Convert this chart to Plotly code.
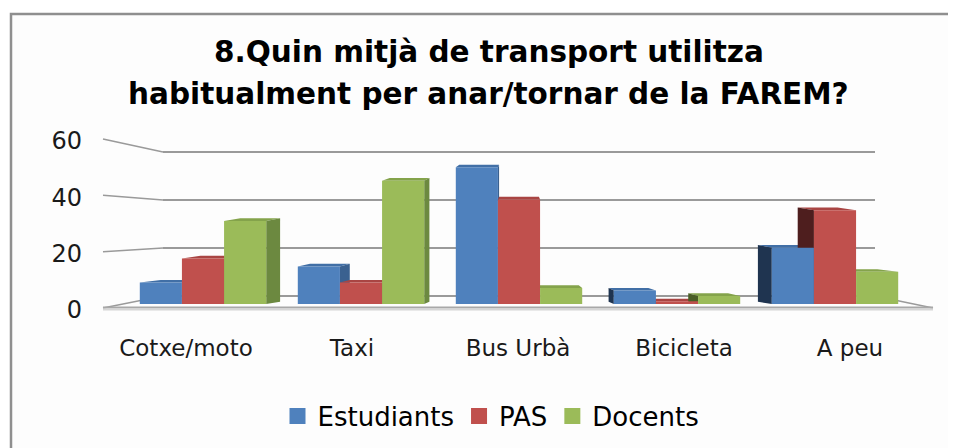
import plotly.graph_objects as go

# ---------------- data ----------------
categories = ["Cotxe/moto", "Taxi", "Bus Urbà", "Bicicleta", "A peu"]
series_names = ["Estudiants", "PAS", "Docents"]
estudiants = [8, 14, 51, 5, 21]
pas = [17, 8, 39, 1, 35]
docents = [31, 46, 6, 3, 12]
y_ticks = [0, 20, 40, 60]
title_lines = ["8.Quin mitjà de transport utilitza",
               "habitualment per anar/tornar de la FAREM?"]

# ---------------- styles ----------------
W, H = 956, 448
OFF = 8  # page body margin
FONT = "DejaVu Sans"
front_colors = ["#4F81BD", "#C0504D", "#9BBB59"]
top_colors = ["#416FA6", "#A94543", "#84A34B"]
side_right_colors = ["#3A6190", "#8E3A38", "#6C8940"]   # faces turned to the right
side_left_colors = ["#1F3450", "#4E1E1E", "#4A5E26"]    # faces turned to the left
GRID = "#9a9a9a"


def px(x):
    return (x - OFF) / W


def py(y):
    return 1 - (y - OFF) / H


series = [estudiants, pas, docents]
YMAX = 60
YTOP = 61  # a little head-room so the top gridline is drawn

# pixel geometry of the pseudo-3D box
back_l, back_r, back_0, back_60 = 163, 875, 296, 152
bar_l, bar_r, bar_0, bar_60 = 124, 914, 304, 143.2
lab_l, lab_r, lab_0, lab_60 = 103, 933, 309.5, 141
front_l, front_r, front_0, front_60 = 103, 933, 308, 139


def top_px(p0, p60, top):
    return p0 - (p0 - p60) * top / YMAX


fig = go.Figure()

# back wall (gridlines)
fig.add_trace(go.Scatter(x=categories, y=[None] * len(categories), xaxis="x", yaxis="y",
                         showlegend=False, hoverinfo="skip"))
# bars
for name, vals, col in zip(series_names, series, front_colors):
    fig.add_trace(go.Bar(name=name, x=categories, y=vals, xaxis="x2", yaxis="y2",
                         marker=dict(color=col, line=dict(width=0)),
                         showlegend=False))
# label axes
fig.add_trace(go.Scatter(x=categories, y=[None] * len(categories), xaxis="x3", yaxis="y3",
                         showlegend=False, hoverinfo="skip"))
# legend entries
for name, col in zip(series_names, front_colors):
    fig.add_trace(go.Scatter(name=name, x=[None], y=[None], xaxis="x3", yaxis="y3",
                             mode="markers",
                             marker=dict(symbol="square", size=17, color=col)))

shapes = []
# chart frame
shapes.append(dict(type="rect", xref="paper", yref="paper",
                   x0=px(11), x1=px(990), y0=py(14), y1=py(490),
                   line=dict(color="#8f8f8f", width=2.5), fillcolor="#fdfdfd", layer="below"))
# left wall lines
for v in y_ticks:
    yf = front_0 - (front_0 - front_60) * v / YMAX
    yb = back_0 - (back_0 - back_60) * v / YMAX
    shapes.append(dict(type="line", xref="paper", yref="paper",
                       x0=px(front_l), y0=py(yf), x1=px(back_l), y1=py(yb),
                       line=dict(color=GRID, width=1.5), layer="below"))
# floor
shapes.append(dict(type="line", xref="paper", yref="paper",
                   x0=px(back_r), y0=py(back_0), x1=px(front_r), y1=py(front_0),
                   line=dict(color=GRID, width=1.5), layer="below"))
shapes.append(dict(type="line", xref="paper", yref="paper",
                   x0=px(front_l), y0=py(front_0 - 0.5), x1=px(front_r), y1=py(front_0 - 0.5),
                   line=dict(color="#a8a8a8", width=2), layer="below"))
shapes.append(dict(type="line", xref="paper", yref="paper",
                   x0=px(front_l), y0=py(front_0 + 1.5), x1=px(front_r), y1=py(front_0 + 1.5),
                   line=dict(color="#d6d6d6", width=2), layer="below"))

# pseudo-3D faces of the bars (derived from the data values)
n = len(series)
bw = 0.8 / n
center = (len(categories) - 1) / 2
K = 0.055
E = 1.0
for j, vals in enumerate(series):
    for i, v in enumerate(vals):
        xl = i - 0.4 + j * bw
        xr = xl + bw
        xc = (xl + xr) / 2
        dL = K * (center - xl)
        dR = K * (center - xr)
        # top face
        shapes.append(dict(type="path", xref="x2", yref="y2", layer="below",
                           path=f"M{xl},{v} L{xr},{v} L{xr + dR},{v + E} L{xl + dL},{v + E} Z",
                           fillcolor=top_colors[j], line=dict(width=0)))
        if abs(xc - center) < 1e-6:
            continue
        if xc < center:
            xe, d, col = xr, dR, side_right_colors[j]
        else:
            xe, d, col = xl, dL, side_left_colors[j]
        shapes.append(dict(type="path", xref="x2", yref="y2", layer="below",
                           path=f"M{xe},0 L{xe + d},{E * 0.8} L{xe + d},{v + E} L{xe},{v} Z",
                           fillcolor=col, line=dict(width=0)))

annotations = []
for txt, yc in zip(title_lines, [51.5, 94]):
    annotations.append(dict(text=f"<b>{txt}</b>", xref="paper", yref="paper",
                            x=px(489), y=py(yc), xanchor="center", yanchor="middle",
                            showarrow=False,
                            font=dict(family=FONT, size=29.5, color="#000000")))

nocat = dict(showgrid=False, zeroline=False, showline=False, showticklabels=False,
             ticks="", fixedrange=True)

fig.update_layout(
    width=W, height=H, autosize=False,
    margin=dict(l=0, r=0, t=0, b=0, pad=0, autoexpand=False),
    paper_bgcolor="#ffffff", plot_bgcolor="rgba(0,0,0,0)",
    barmode="group", bargap=0.2, bargroupgap=0,
    showlegend=True,
    legend=dict(orientation="h", x=px(491), xanchor="center", y=py(416), yanchor="middle",
                font=dict(family=FONT, size=26, color="#000000"),
                bgcolor="rgba(0,0,0,0)", itemclick=False, itemdoubleclick=False),
    xaxis=dict(domain=[px(back_l), px(back_r)], anchor="y", type="category",
               range=[-0.5, len(categories) - 0.5], **nocat),
    yaxis=dict(domain=[py(back_0), py(top_px(back_0, back_60, YTOP))], anchor="x",
               range=[0, YTOP],
               tickvals=y_ticks, showgrid=True, gridcolor=GRID, gridwidth=2,
               zeroline=True, zerolinecolor=GRID, zerolinewidth=2,
               showline=False, showticklabels=False, ticks="", fixedrange=True),
    xaxis2=dict(domain=[px(bar_l), px(bar_r)], anchor="y2", type="category",
                range=[-0.5, len(categories) - 0.5], **nocat),
    yaxis2=dict(domain=[py(bar_0), py(bar_60)], anchor="x2", range=[0, YMAX], **nocat),
    xaxis3=dict(domain=[px(lab_l), px(lab_r)], anchor="y3", type="category",
                range=[-0.5, len(categories) - 0.5],
                showgrid=False, zeroline=False, showline=False,
                ticks="outside", ticklen=18, tickcolor="rgba(0,0,0,0)",
                tickfont=dict(family=FONT, size=23, color="#1a1a1a"), fixedrange=True),
    yaxis3=dict(domain=[py(lab_0), py(lab_60)], anchor="free", position=px(82), side="left",
                range=[0, YMAX], tickvals=y_ticks, showgrid=False, zeroline=False,
                showline=False, ticks="",
                tickfont=dict(family=FONT, size=24, color="#1a1a1a"), fixedrange=True),
    shapes=shapes,
    annotations=annotations,
)

fig.write_html("out.html")
